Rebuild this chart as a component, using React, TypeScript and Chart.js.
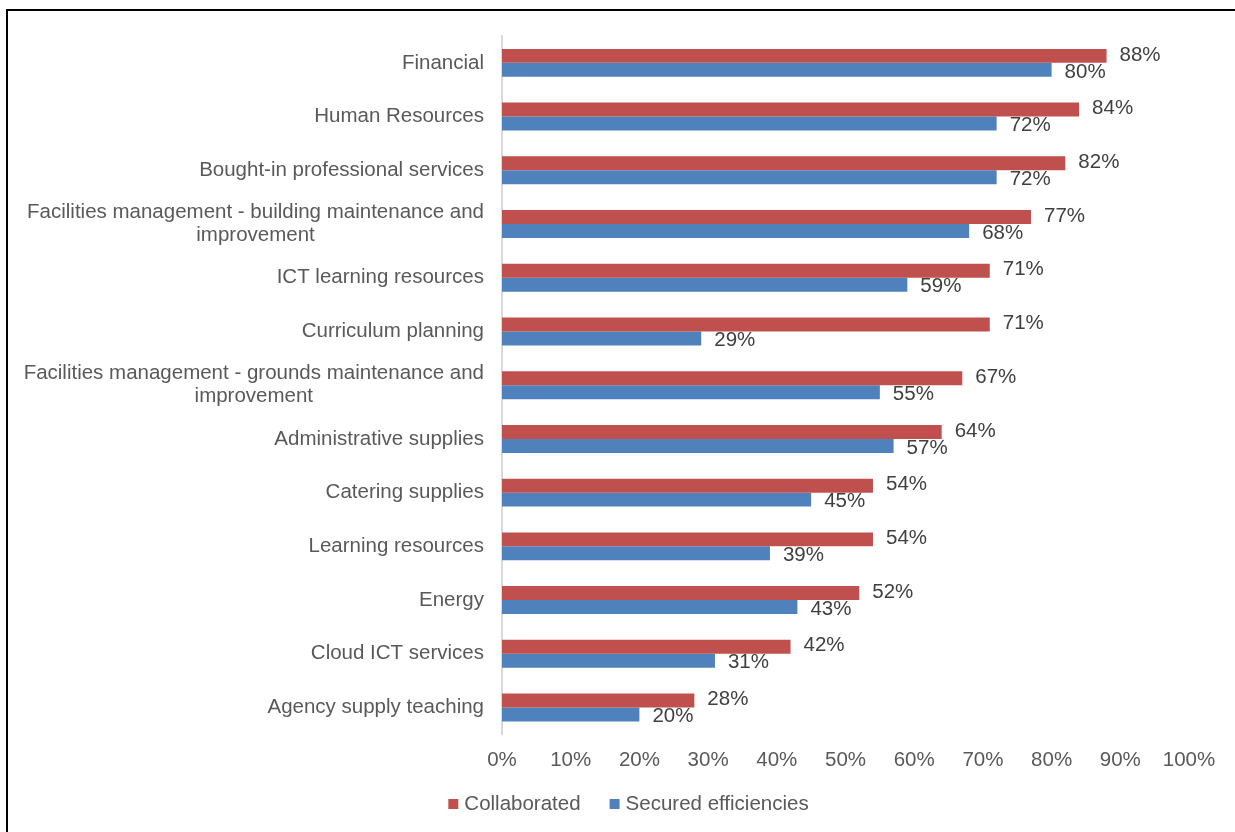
import React, { useEffect, useRef } from "react";
import { Chart, registerables } from "chart.js";

Chart.register(...registerables);

const categories: string[][] = [
  ["Financial"],
  ["Human Resources"],
  ["Bought-in professional services"],
  ["Facilities management - building maintenance and", "improvement"],
  ["ICT learning resources"],
  ["Curriculum planning"],
  ["Facilities management - grounds maintenance and", "improvement"],
  ["Administrative supplies"],
  ["Catering supplies"],
  ["Learning resources"],
  ["Energy"],
  ["Cloud ICT services"],
  ["Agency supply teaching"],
];

const collaborated = [88, 84, 82, 77, 71, 71, 67, 64, 54, 54, 52, 42, 28];
const securedEfficiencies = [80, 72, 72, 68, 59, 29, 55, 57, 45, 39, 43, 31, 20];

const seriesNames = ["Collaborated", "Secured efficiencies"];
const seriesColors = ["#C0504D", "#4F81BD"];

const FONT = "'Liberation Sans', Arial, sans-serif";
const FONT_SIZE = 20.5;

const yLabelsPlugin = {
  id: "yLabels",
  afterDraw(chart: any) {
    const ctx = chart.ctx;
    const yScale = chart.scales.y;
    const rightX = chart.chartArea.left - 18;
    ctx.save();
    ctx.font = `${FONT_SIZE}px ${FONT}`;
    ctx.fillStyle = "#595959";
    ctx.textBaseline = "middle";
    const lh = 23;
    categories.forEach((lines, i) => {
      const cy = yScale.getPixelForValue(i);
      const firstW = ctx.measureText(lines[0]).width;
      const centerX = rightX - firstW / 2;
      const startY = cy - ((lines.length - 1) * lh) / 2;
      lines.forEach((line, j) => {
        if (j === 0) {
          ctx.textAlign = "right";
          ctx.fillText(line, rightX, startY);
        } else {
          ctx.textAlign = "center";
          ctx.fillText(line, centerX, startY + j * lh);
        }
      });
    });
    ctx.restore();
  },
};

const dataLabelsPlugin = {
  id: "dataLabels",
  afterDatasetsDraw(chart: any) {
    const ctx = chart.ctx;
    ctx.save();
    ctx.font = `${FONT_SIZE}px ${FONT}`;
    ctx.fillStyle = "#404040";
    ctx.textAlign = "left";
    ctx.textBaseline = "middle";
    chart.data.datasets.forEach((ds: any, di: number) => {
      const meta = chart.getDatasetMeta(di);
      meta.data.forEach((el: any, i: number) => {
        const v = ds.data[i];
        const dy = di === 0 ? -1 : 2;
        ctx.fillText(`${v}%`, el.x + 13, el.y + dy);
      });
    });
    ctx.restore();
  },
};

const legendPlugin = {
  id: "customLegend",
  afterDraw(chart: any) {
    const ctx = chart.ctx;
    ctx.save();
    ctx.font = `${FONT_SIZE}px ${FONT}`;
    ctx.textBaseline = "middle";
    ctx.textAlign = "left";
    const box = 10;
    const boxGap = 6;
    const itemGap = 29;
    const widths = seriesNames.map((n) => box + boxGap + ctx.measureText(n).width);
    const total = widths.reduce((a, b) => a + b, 0) + itemGap * (seriesNames.length - 1);
    let x = (chart.width + 22) / 2 - total / 2;
    const y = 804;
    seriesNames.forEach((name, i) => {
      ctx.fillStyle = seriesColors[i];
      ctx.fillRect(x, y - box / 2, box, box);
      ctx.fillStyle = "#595959";
      ctx.fillText(name, x + box + boxGap, y);
      x += widths[i] + itemGap;
    });
    ctx.restore();
  },
};

export default function App() {
  const canvasRef = useRef<HTMLCanvasElement | null>(null);

  useEffect(() => {
    if (!canvasRef.current) return;
    const chart = new Chart(canvasRef.current, {
      type: "bar",
      data: {
        labels: categories.map((c) => c.join(" ")),
        datasets: [
          {
            label: seriesNames[0],
            data: collaborated,
            backgroundColor: seriesColors[0],
            categoryPercentage: 0.52,
            barPercentage: 1,
          },
          {
            label: seriesNames[1],
            data: securedEfficiencies,
            backgroundColor: seriesColors[1],
            categoryPercentage: 0.52,
            barPercentage: 1,
          },
        ],
      },
      options: {
        indexAxis: "y",
        animation: false,
        responsive: false,
        maintainAspectRatio: false,
        layout: { padding: { top: 36, right: 46, bottom: 45, left: 0 } },
        scales: {
          x: {
            min: 0,
            max: 100,
            ticks: {
              stepSize: 10,
              padding: 14,
              color: "#595959",
              font: { family: FONT, size: FONT_SIZE },
              callback: (v: any) => `${v}%`,
            },
            grid: { display: false, drawTicks: false },
            border: { display: false },
          },
          y: {
            ticks: { display: false },
            grid: { display: false, drawTicks: false },
            border: { display: true, color: "#D9D9D9", width: 2 },
            afterFit: (scale: any) => {
              scale.width = 502;
            },
          },
        },
        plugins: {
          legend: { display: false },
          tooltip: { enabled: false },
        },
      },
      plugins: [yLabelsPlugin, dataLabelsPlugin, legendPlugin],
    });
    return () => chart.destroy();
  }, []);

  return (
    <div style={{ position: "absolute", left: 0, top: 0, width: 1235, height: 832, background: "#fff", overflow: "hidden" }}>
      <div
        style={{
          position: "absolute",
          left: 6,
          top: 9,
          width: 1300,
          height: 900,
          borderLeft: "2px solid #000",
          borderTop: "2px solid #000",
          boxSizing: "border-box",
        }}
      />
      <canvas ref={canvasRef} width={1235} height={832} style={{ position: "absolute", left: 0, top: 0 }} />
    </div>
  );
}
